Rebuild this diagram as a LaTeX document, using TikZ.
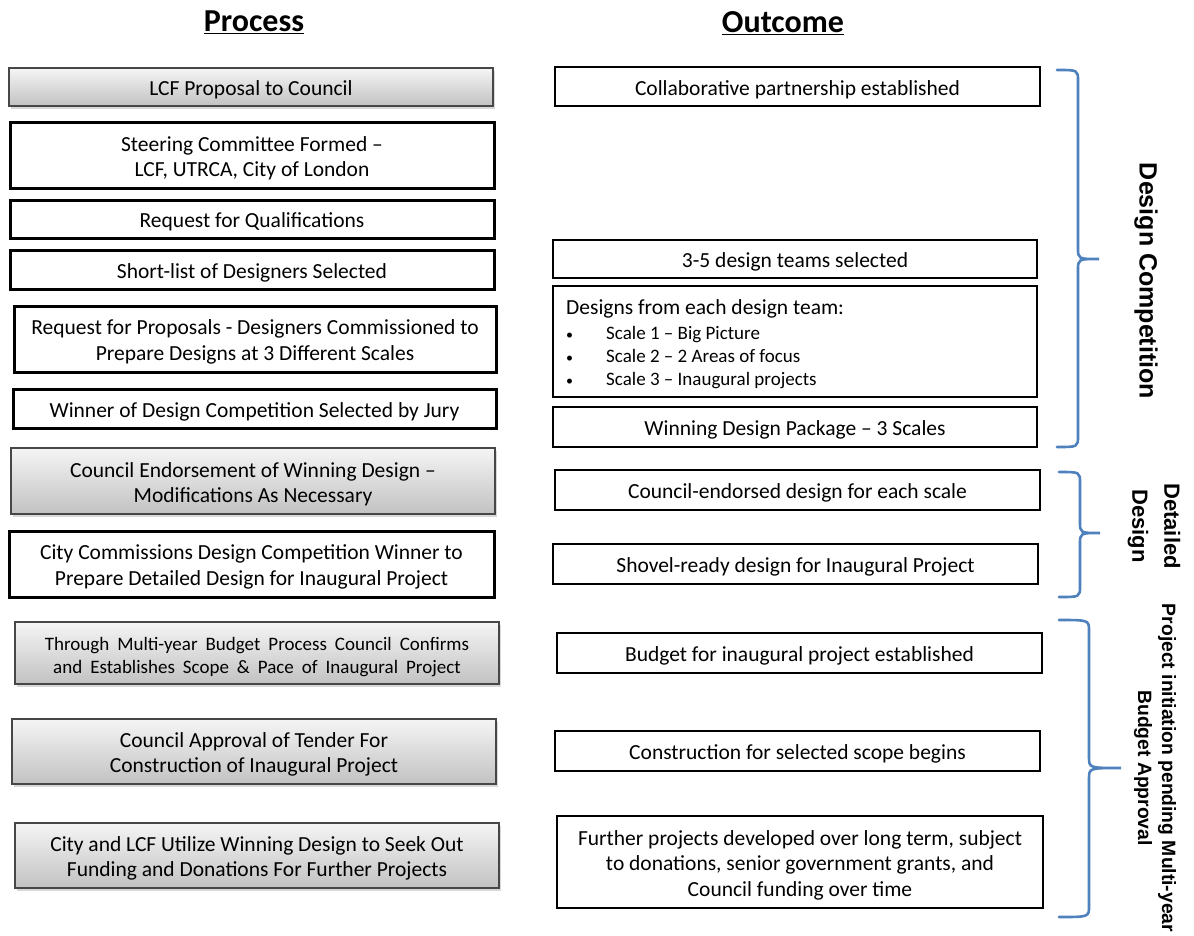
\documentclass[tikz,border=0pt]{standalone}
\usepackage{fontspec}
\setmainfont{Carlito}
\newfontfamily\labfont{Liberation Sans}
\usetikzlibrary{shadows}
\definecolor{bracecol}{HTML}{4F81BD}
\newcommand{\widesp}{\fontsize{19}{23.5}\selectfont\spaceskip=0.42em\relax}
\newcommand{\dstrut}{\rule{0pt}{21pt}}
\tikzset{
  txt/.style={font=\fontsize{21.5}{25.5}\selectfont, align=center, inner sep=0pt, text=black},
  gbox/.style={txt, draw=black!72, line width=1.3pt, top color=black!4, bottom color=black!24,
    drop shadow={shadow xshift=2pt, shadow yshift=-3pt, opacity=0.3}},
  wbox/.style={txt, draw=black, line width=3pt, fill=white},
  obox/.style={txt, draw=black, line width=2.6pt, fill=white},
  bracestyle/.style={draw=bracecol, line width=2.6pt, line cap=round},
  head/.style={font=\fontsize{32}{36}\selectfont\bfseries, inner sep=0pt},
  lab/.style={font=\labfont\bfseries, align=center, rotate=-90, inner sep=0pt},
  itemtxt/.style={font=\fontsize{19}{23}\selectfont, inner sep=0pt, anchor=base west},
  bullettxt/.style={font=\fontsize{14}{16}\selectfont, inner sep=0pt, anchor=base west},
}
\newcommand{\mybrace}[6]{%
  \draw[bracestyle] (#1,#4) .. controls (#2,#4) .. (#2,#4+11) -- (#2,#5-11)
    .. controls (#2,#5) .. (#3,#5) .. controls (#2,#5) .. (#2,#5+11) -- (#2,#6-11)
    .. controls (#2,#6) .. (#1,#6);}
\begin{document}
\begin{tikzpicture}[x=1pt, y=-1pt]
\useasboundingbox[fill=white] (0,0) rectangle (1194,935);

% headers
\node[head] (hp) at (254,22) {\underline{Process}};
\node[head] (ho) at (783,23) {\underline{Outcome}};

% process column
\node[gbox, minimum width=484pt, minimum height=38pt] (p1) at (251,87) {\dstrut LCF Proposal to Council};
\node[wbox, minimum width=484pt, minimum height=66pt] (p2) at (252,155) {\dstrut Steering Committee Formed --\\LCF, UTRCA, City of London};
\node[wbox, minimum width=484pt, minimum height=38pt] (p3) at (252,219) {\dstrut Request for Qualifications};
\node[wbox, minimum width=484pt, minimum height=39pt] (p4) at (252,269.5) {\dstrut Short-list of Designers Selected};
\node[wbox, minimum width=482pt, minimum height=66pt] (p5) at (255,339) {\dstrut Request for Proposals - Designers Commissioned to\\Prepare Designs at 3 Different Scales};
\node[wbox, minimum width=483pt, minimum height=39pt] (p6) at (254.5,408.5) {\dstrut Winner of Design Competition Selected by Jury};
\node[gbox, minimum width=484pt, minimum height=66pt] (p7) at (253,481) {\dstrut Council Endorsement of Winning Design --\\Modifications As Necessary};
\node[wbox, minimum width=485pt, minimum height=66pt] (p8) at (251.5,564) {\dstrut City Commissions Design Competition Winner to\\Prepare Detailed Design for Inaugural Project};
\node[gbox, minimum width=484pt, minimum height=62pt, font=\widesp] (p9) at (257,653) {\dstrut Through Multi-year Budget Process Council Confirms\\and Establishes Scope \& Pace of Inaugural Project};
\node[gbox, minimum width=484pt, minimum height=65pt] (p10) at (254,751.5) {\dstrut Council Approval of Tender For\\Construction of Inaugural Project};
\node[gbox, minimum width=484pt, minimum height=65pt] (p11) at (257,855.5) {\dstrut City and LCF Utilize Winning Design to Seek Out\\Funding and Donations For Further Projects};

% outcome column
\node[obox, minimum width=485pt, minimum height=39pt] (o1) at (797.5,86.5) {\dstrut Collaborative partnership established};
\node[obox, minimum width=484pt, minimum height=38pt] (o2) at (795,259) {\dstrut 3-5 design teams selected};
\node[obox, minimum width=484pt, minimum height=111pt] (o3) at (795,341.5) {};
\node[txt, anchor=base west] (o3t) at (566,314) {Designs from each design team:};
\node[bullettxt] (b1) at (566,339) {•};
\node[itemtxt] (i1) at (606,339) {Scale 1 -- Big Picture};
\node[bullettxt] (b2) at (566,362) {•};
\node[itemtxt] (i2) at (606,362) {Scale 2 -- 2 Areas of focus};
\node[bullettxt] (b3) at (566,385) {•};
\node[itemtxt] (i3) at (606,385) {Scale 3 -- Inaugural projects};
\node[obox, minimum width=484pt, minimum height=40pt] (o4) at (795,427) {\dstrut Winning Design Package -- 3 Scales};
\node[obox, minimum width=485pt, minimum height=40pt] (o5) at (797.5,490) {\dstrut Council-endorsed design for each scale};
\node[obox, minimum width=485pt, minimum height=40pt] (o6) at (795.5,564) {\dstrut Shovel-ready design for Inaugural Project};
\node[obox, minimum width=485pt, minimum height=40pt] (o7) at (799.5,653) {\dstrut Budget for inaugural project established};
\node[obox, minimum width=485pt, minimum height=40pt] (o8) at (797.5,751) {\dstrut Construction for selected scope begins};
\node[obox, minimum width=486pt, minimum height=92pt] (o9) at (800,862) {\dstrut Further projects developed over long term, subject\\to donations, senior government grants, and\\Council funding over time};

% braces
\mybrace{1057}{1078}{1099}{70}{259}{447}
\mybrace{1059}{1080}{1100}{472}{533}{597}
\mybrace{1059}{1089}{1121}{620}{768}{917}

% phase labels
\node[lab, font=\labfont\bfseries\fontsize{25}{30}\selectfont] (l1) at (1146,281) {Design Competition};
\node[lab, font=\labfont\bfseries\fontsize{22}{32}\selectfont] (l2) at (1154,526) {Detailed\\Design};
\node[lab, font=\labfont\bfseries\fontsize{19.3}{24}\selectfont] (l3) at (1155,768) {Project initiation pending Multi-year\\Budget Approval};
\end{tikzpicture}
\end{document}
